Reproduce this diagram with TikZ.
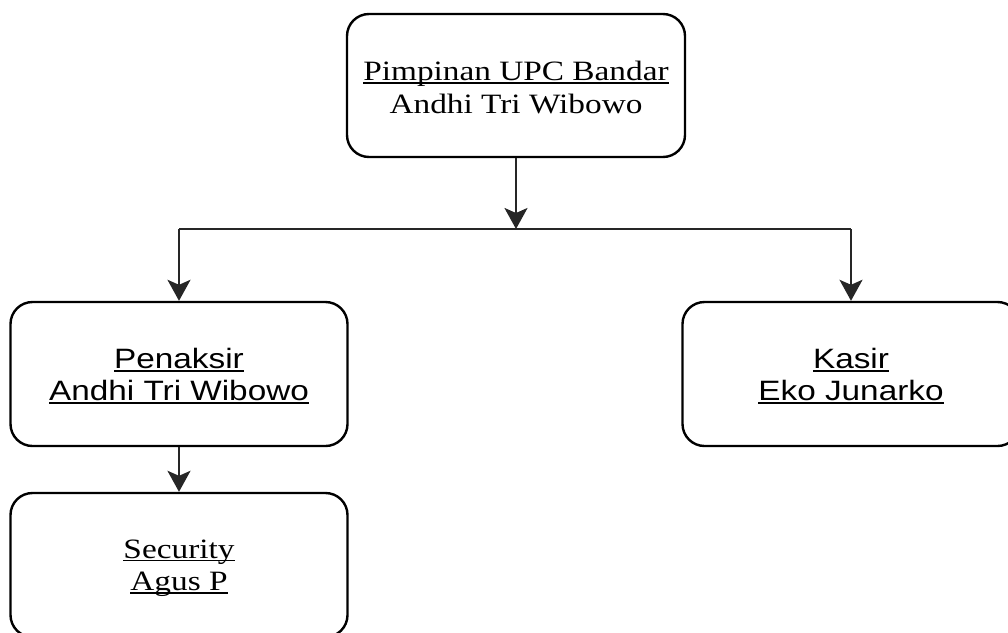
\documentclass[tikz,border=0pt]{standalone}
\usepackage{fontspec}
\usetikzlibrary{arrows.meta}
\newfontfamily\serifF[FakeStretch=1.19]{Liberation Serif}
\newfontfamily\sansF[FakeStretch=1.19]{Liberation Sans}
% underline at a fixed depth below the baseline
\newcommand\ulin[1]{\setbox0\hbox{#1}\rlap{\rule[-3.4pt]{\wd0}{1.8pt}}\box0}
\tikzset{
  unit/.style={draw=black, line width=2.4pt, rounded corners=22pt,
    minimum width=337pt, minimum height=144pt, align=center,
    inner sep=0pt, font=\fontsize{28}{32.5}\selectfont},
  lbl/.style={font=\fontsize{28}{32.5}\selectfont, align=center, inner sep=0pt},
  link/.style={draw=black!85, line width=2.3pt},
  arr/.style={link, -{Stealth[length=21pt,width=23pt,inset=5pt]}}
}
\begin{document}
\begin{tikzpicture}[x=1pt,y=-1pt]
\useasboundingbox (0,0) rectangle (1008,632);
% boxes
\node[unit, minimum width=338pt, minimum height=143pt] (top) at (516,85.5) {};
\node[unit] (pen) at (179,374) {};
\node[unit] (sec) at (179,565) {};
\node[unit] (kas) at (851,374) {};
% texts, a little below each box centre
\node[lbl] (topt) at ([yshift=-2pt]top.center)
  {\serifF\ulin{Pimpinan UPC Bandar}\\\serifF Andhi Tri Wibowo};
\node[lbl] (pent) at ([yshift=-2pt]pen.center)
  {\sansF\ulin{Penaksir}\\\sansF\ulin{Andhi Tri Wibowo}};
\node[lbl] (sect) at ([yshift=-3pt]sec.center)
  {\serifF\ulin{Security}\\\serifF\ulin{Agus P}};
\node[lbl] (kast) at ([yshift=-2pt]kas.center)
  {\sansF\ulin{Kasir}\\\sansF\ulin{Eko Junarko}};
% connectors
\coordinate (jn) at (516,229);
\coordinate (jl) at (179,229);
\coordinate (jr) at (851,229);
\draw[arr] (top) -- (jn);
\draw[link] (jl) -- (jr);
\draw[arr] (jl) -- (pen);
\draw[arr] (jr) -- (kas);
\draw[arr] (pen) -- (sec);
\end{tikzpicture}
\end{document}
